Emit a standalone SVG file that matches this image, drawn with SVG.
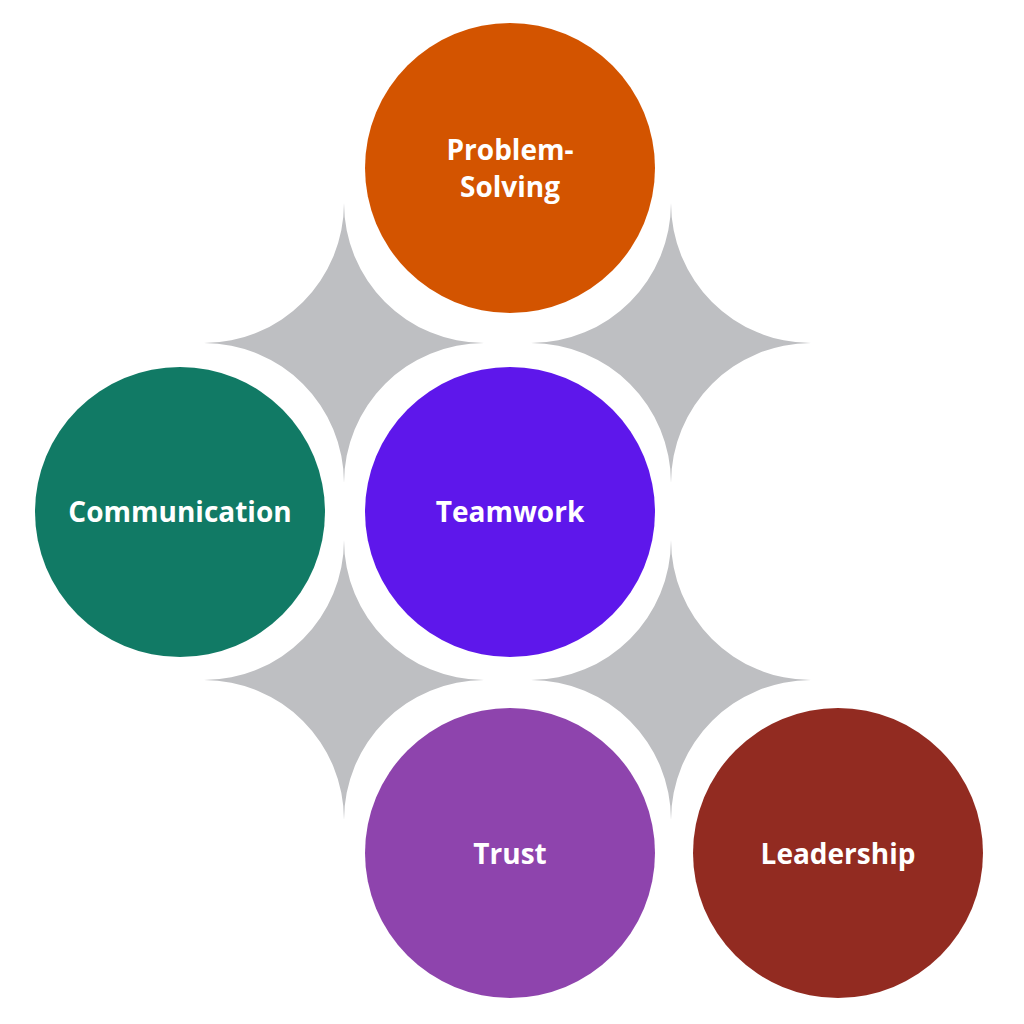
<svg xmlns="http://www.w3.org/2000/svg" width="1024" height="1024" viewBox="0 0 1024 1024">
<style>
.star{fill:#BEBFC2}
.lbl{fill:#FFFFFF;font-family:"Open Sans","Noto Sans",sans-serif;font-weight:700;font-size:28px;text-anchor:middle}
</style>
<rect width="1024" height="1024" fill="#FFFFFF"/>
<g id="connectors">
<path class="star" d="M344,203 A140,140 0 0 0 484,343 A140,140 0 0 0 344,483 A140,140 0 0 0 204,343 A140,140 0 0 0 344,203 Z"/>
<path class="star" d="M671,203 A140,140 0 0 0 811,343 A140,140 0 0 0 671,483 A140,140 0 0 0 531,343 A140,140 0 0 0 671,203 Z"/>
<path class="star" d="M344,540 A140,140 0 0 0 484,680 A140,140 0 0 0 344,820 A140,140 0 0 0 204,680 A140,140 0 0 0 344,540 Z"/>
<path class="star" d="M671,540 A140,140 0 0 0 811,680 A140,140 0 0 0 671,820 A140,140 0 0 0 531,680 A140,140 0 0 0 671,540 Z"/>
</g>
<g id="problem-solving">
<circle cx="510" cy="168" r="145" fill="#D35400"/>
<text class="lbl" x="510" y="160">Problem-</text>
<text class="lbl" x="510" y="197">Solving</text>
</g>
<g id="communication">
<circle cx="180" cy="512" r="145" fill="#117A65"/>
<text class="lbl" x="180" y="522">Communication</text>
</g>
<g id="teamwork">
<circle cx="510" cy="512" r="145" fill="#5E17EB"/>
<text class="lbl" x="510" y="522">Teamwork</text>
</g>
<g id="trust">
<circle cx="510" cy="853" r="145" fill="#8E44AD"/>
<text class="lbl" x="510" y="864">Trust</text>
</g>
<g id="leadership">
<circle cx="838" cy="853" r="145" fill="#922B21"/>
<text class="lbl" x="838" y="864">Leadership</text>
</g>
</svg>
